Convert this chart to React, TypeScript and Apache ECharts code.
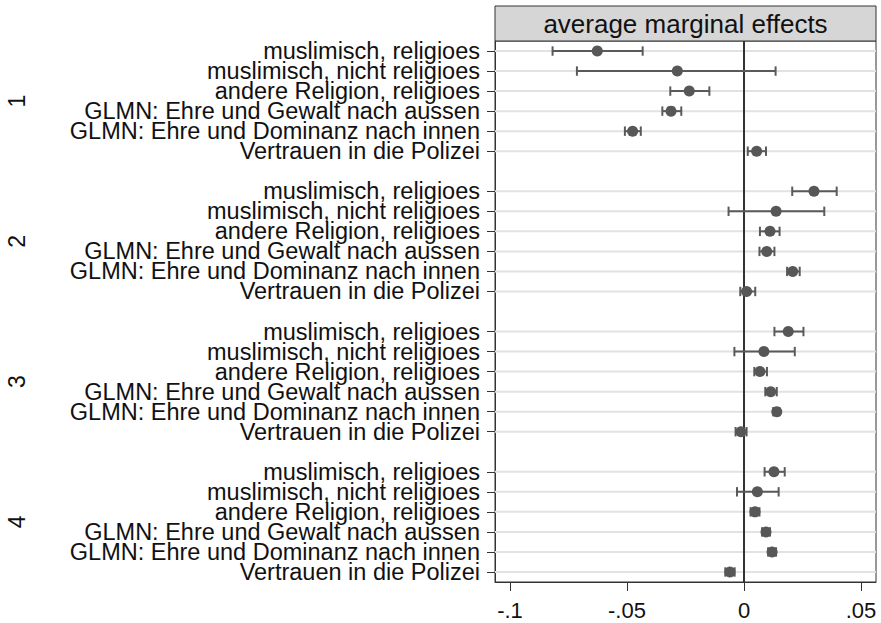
import React, { useEffect, useRef } from "react";
import * as echarts from "echarts";

const rowLabels = [
  "muslimisch, religioes",
  "muslimisch, nicht religioes",
  "andere Religion, religioes",
  "GLMN: Ehre und Gewalt nach aussen",
  "GLMN: Ehre und Dominanz nach innen",
  "Vertrauen in die Polizei",
];
const groupLabels = ["1", "2", "3", "4"];
const xTicks = [-0.1, -0.05, 0, 0.05];

const est1 = [-0.0627, -0.0285, -0.0234, -0.0312, -0.0476, 0.0054];
const lo1 = [-0.0818, -0.0714, -0.0315, -0.0349, -0.0509, 0.0016];
const hi1 = [-0.0433, 0.0135, -0.0148, -0.0268, -0.0441, 0.0094];

const est2 = [0.0299, 0.0137, 0.0111, 0.0097, 0.0208, 0.0011];
const lo2 = [0.0206, -0.0066, 0.0068, 0.0066, 0.0184, -0.0016];
const hi2 = [0.0396, 0.0343, 0.0152, 0.013, 0.0238, 0.0048];

const est3 = [0.0189, 0.0085, 0.0068, 0.0114, 0.014, -0.0013];
const lo3 = [0.013, -0.0041, 0.0044, 0.0091, 0.0125, -0.0036];
const hi3 = [0.0254, 0.0217, 0.0098, 0.014, 0.0151, 0.0011];

const est4 = [0.0128, 0.0057, 0.0047, 0.0094, 0.012, -0.006];
const lo4 = [0.0088, -0.003, 0.0028, 0.0077, 0.0103, -0.008];
const hi4 = [0.0174, 0.0148, 0.0066, 0.0111, 0.0137, -0.004];

const FONT = "'Liberation Sans', Arial, Helvetica, sans-serif";

export default function App() {
  const ref = useRef<HTMLDivElement>(null);
  useEffect(() => {
    if (!ref.current) return;
    const chart = echarts.init(ref.current, undefined, { renderer: "svg" });

    const ests = [est1, est2, est3, est4];
    const los = [lo1, lo2, lo3, lo4];
    const his = [hi1, hi2, hi3, hi4];
    const per = rowLabels.length + 1;
    const categories: string[] = [];
    groupLabels.forEach((_, g) => {
      rowLabels.forEach((l) => categories.push(l));
      if (g < groupLabels.length - 1) categories.push("");
    });
    const points: number[][] = [];
    const bars: number[][] = [];
    ests.forEach((arr, g) => {
      arr.forEach((v, r) => {
        const idx = g * per + r;
        points.push([v, idx]);
        bars.push([los[g][r], his[g][r], idx]);
      });
    });
    const groupCenters = groupLabels.map((_, g) => g * per + (rowLabels.length - 1) / 2);
    const nCat = categories.length;

    const option: any = {
      animation: false,
      backgroundColor: "#fff",
      textStyle: { fontFamily: FONT },
      grid: {
        left: 495,
        right: 5,
        top: 41,
        bottom: 41,
        show: true,
        borderColor: "#333",
        borderWidth: 1,
        containLabel: false,
        outerBoundsMode: "none",
      },
      graphic: [
        {
          type: "rect",
          shape: { x: 495, y: 6, width: 381, height: 35 },
          style: { fill: "#d6d6d6", stroke: "#333", lineWidth: 1 },
          z: 10,
        },
        {
          type: "text",
          x: 685.5,
          y: 24,
          style: {
            text: "average marginal effects",
            fontSize: 26,
            fontFamily: FONT,
            fill: "#111",
            align: "center",
            verticalAlign: "middle",
          },
          z: 11,
        },
      ],
      xAxis: {
        type: "value",
        min: -0.1064,
        max: 0.0564,
        position: "bottom",
        splitLine: { show: false },
        axisLine: { show: true, onZero: false, lineStyle: { color: "#333", width: 1 } },
        axisTick: {
          show: true,
          length: 9,
          customValues: xTicks,
          lineStyle: { color: "#333", width: 1 },
        },
        axisLabel: {
          customValues: xTicks,
          fontSize: 22,
          color: "#111",
          fontFamily: FONT,
          margin: 17,
          formatter: (v: number) =>
            v === 0 ? "0" : String(v).replace("0.", "."),
        },
      },
      yAxis: [
        {
          type: "category",
          inverse: true,
          data: categories,
          boundaryGap: true,
          axisLine: { show: true, onZero: false, lineStyle: { color: "#333", width: 1 } },
          axisTick: {
            show: true,
            alignWithLabel: true,
            length: 8,
            interval: (i: number, v: string) => v !== "",
            lineStyle: { color: "#333", width: 1 },
          },
          axisLabel: {
            interval: 0,
            fontSize: 23.5,
            color: "#111",
            fontFamily: FONT,
            margin: 15,
          },
          splitLine: { show: false },
        },
        {
          type: "value",
          inverse: true,
          min: -0.5,
          max: nCat - 0.5,
          position: "left",
          axisLine: { show: false, onZero: false },
          axisTick: { show: false },
          splitLine: { show: false },
          axisLabel: {
            customValues: groupCenters,
            rotate: 90,
            margin: 467,
            fontSize: 23,
            color: "#111",
            fontFamily: FONT,
            formatter: (v: number) => {
              const i = groupCenters.findIndex((c) => Math.abs(c - v) < 1e-6);
              return i >= 0 ? groupLabels[i] : "";
            },
          },
        },
      ],
      series: [
        {
          type: "custom",
          name: "grid",
          z: 1,
          silent: true,
          data: points,
          encode: { x: 0, y: 1 },
          renderItem: (params: any, api: any) => {
            const cs = params.coordSys;
            const p = api.coord([0, api.value(1)]);
            return {
              type: "line",
              shape: { x1: cs.x, y1: p[1], x2: cs.x + cs.width, y2: p[1] },
              style: { stroke: "#e2e2e2", lineWidth: 2 },
            };
          },
        },
        {
          type: "custom",
          name: "zero",
          z: 2,
          silent: true,
          data: [[0]],
          encode: { x: 0 },
          renderItem: (params: any, api: any) => {
            const cs = params.coordSys;
            const p = api.coord([api.value(0), 0]);
            return {
              type: "line",
              shape: { x1: p[0], y1: cs.y, x2: p[0], y2: cs.y + cs.height },
              style: { stroke: "#333", lineWidth: 2 },
            };
          },
        },
        {
          type: "custom",
          name: "ci",
          z: 3,
          silent: true,
          data: bars,
          encode: { x: [0, 1], y: 2 },
          renderItem: (params: any, api: any) => {
            const a = api.coord([api.value(0), api.value(2)]);
            const b = api.coord([api.value(1), api.value(2)]);
            const h = 4.7;
            const st = { stroke: "#5a5a5a", lineWidth: 2 };
            return {
              type: "group",
              children: [
                { type: "line", shape: { x1: a[0], y1: a[1], x2: b[0], y2: b[1] }, style: st },
                { type: "line", shape: { x1: a[0], y1: a[1] - h, x2: a[0], y2: a[1] + h }, style: st },
                { type: "line", shape: { x1: b[0], y1: b[1] - h, x2: b[0], y2: b[1] + h }, style: st },
              ],
            };
          },
        },
        {
          type: "scatter",
          name: "est",
          z: 4,
          data: points,
          symbol: "circle",
          symbolSize: 11,
          itemStyle: { color: "#575757", opacity: 1 },
        },
      ],
    };
    chart.setOption(option);
    return () => chart.dispose();
  }, []);
  return (
    <div
      ref={ref}
      style={{ position: "fixed", left: 0, top: 0, width: 881, height: 623 }}
    />
  );
}
